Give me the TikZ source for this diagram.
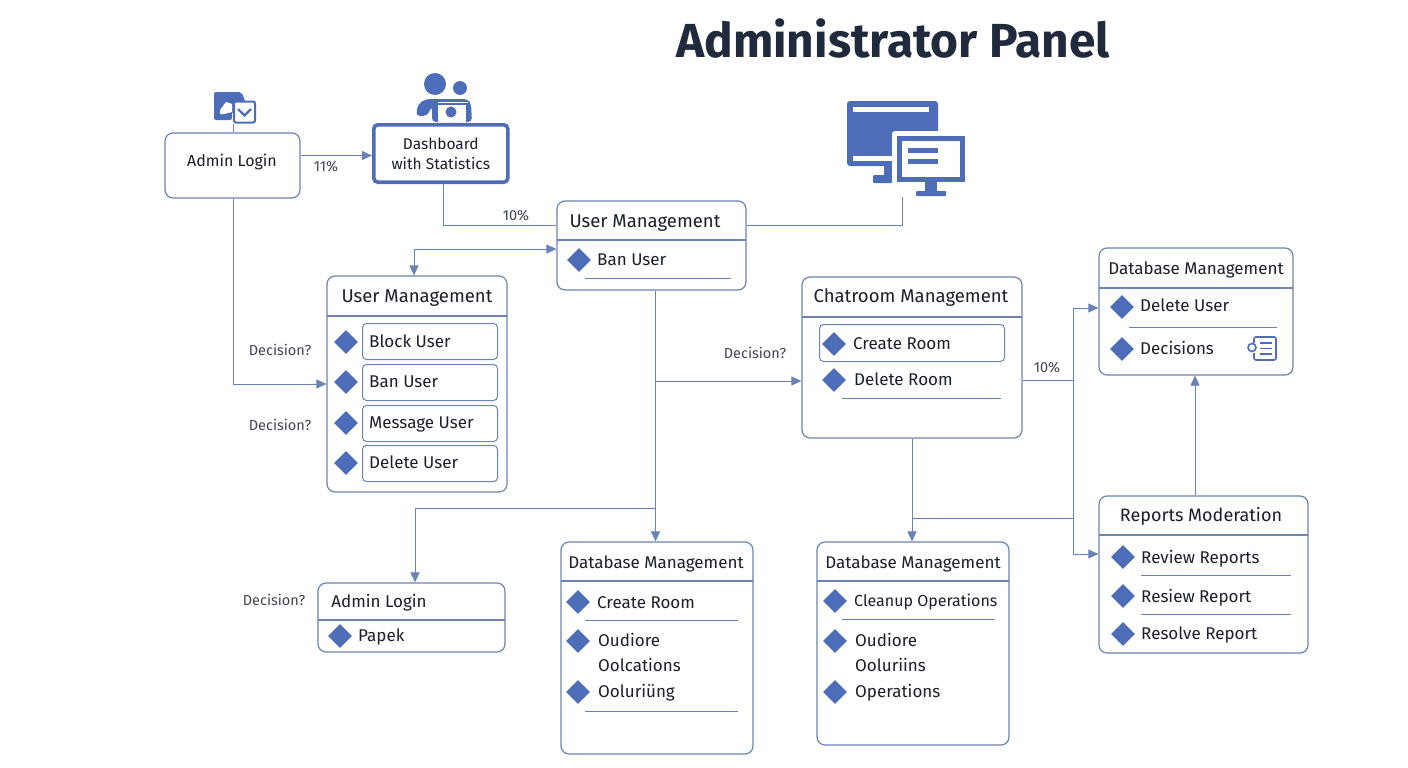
\documentclass[tikz,border=0pt]{standalone}
\usepackage{fontspec}
\setmainfont{Fira Sans}
\usetikzlibrary{arrows.meta,shapes.geometric,calc}
\definecolor{ln}{HTML}{6A82B6}
\definecolor{bx}{HTML}{6D83B3}
\definecolor{blu}{HTML}{4E6DB8}
\definecolor{ttl}{HTML}{1F2A3C}
\definecolor{txt}{HTML}{1A1F2B}
\definecolor{lbl}{HTML}{3F4654}
\tikzset{
 x=1pt,y=-1pt,
 panel/.style={draw=bx,line width=1.2pt,rounded corners=8pt,fill=white,inner sep=0pt},
 inner/.style={draw=bx,line width=1pt,rounded corners=4pt,fill=white,inner sep=0pt},
 dia/.style={diamond,fill=blu,inner sep=0pt,minimum width=24pt,minimum height=24pt},
 head/.style={font=\fontsize{18}{20}\selectfont,text=txt,inner sep=0pt,anchor=base},
 headb/.style={head,font=\fontsize{18.5}{20}\selectfont},
 headc/.style={head,font=\fontsize{17}{20}\selectfont},
 item/.style={font=\fontsize{17}{20}\selectfont,text=txt,inner sep=0pt,anchor=base west},
 lab/.style={font=\fontsize{14.5}{16}\selectfont,text=lbl,inner sep=0pt},
 wire/.style={draw=ln,line width=1pt},
 arr/.style={wire,-{Triangle[length=10pt,width=9pt,fill=ln]}},
 rule/.style={draw=ln,line width=0.9pt},
 hdr/.style={draw=bx,line width=1.1pt},
}
\newcommand{\panelbox}[6]{% name x1 y1 x2 y2 header-y
 \node[panel,minimum width=#4pt-#2pt,minimum height=#5pt-#3pt,anchor=north west] (#1) at (#2-0.6,#3-0.6) {};
 \draw[hdr] (#2,#6) -- (#4,#6);
}
\begin{document}
\begin{tikzpicture}
\useasboundingbox (0,0) rectangle (1408,768);
\fill[white] (0,0) rectangle (1408,768);
\node[font=\fontsize{47.8}{50}\selectfont\bfseries,text=ttl,inner sep=0pt,anchor=base] (title) at (893,58) {Administrator Panel};

\node[panel,minimum width=135pt,minimum height=65pt,anchor=north west] (login) at (164.4,132.4) {};
\node[font=\fontsize{16}{20}\selectfont,text=txt,inner sep=0pt] (logintxt) at (232,162) {Admin Login};
\node[draw=blu,line width=3.6pt,rounded corners=4pt,fill=white,minimum width=134pt,minimum height=57.4pt,anchor=north west,inner sep=0pt,align=center,font=\fontsize{15.5}{20}\selectfont,text=txt] (dash) at (372,123) {Dashboard\\with Statistics};

% icons
\coordinate (ic1) at (233,125);
\fill[blu,rounded corners=2pt] (214,92) -- (241,92) -- (245,100) -- (245,112) -- (232,112) -- (232,120) -- (214,120) -- cycle;
\fill[white] (220,110) -- (226,102) -- (232,104) -- (232,112) -- (224,114) -- (220,114) -- cycle;
\node[draw=blu,line width=2pt,rounded corners=2pt,fill=white,minimum width=21pt,minimum height=21pt,inner sep=0pt] (check) at (244.5,112) {};
\draw[blu,line width=2.4pt] (238,109) -- (244.5,115.5) -- (251,109);
\draw[wire] (check.south -| ic1) -- (login.north -| ic1);

% people icon
\fill[blu] (435,84) circle (11);
\fill[blu] (460,88) circle (7);
\fill[blu,rounded corners=4pt] (416,116) -- (418,104) -- (426,99) -- (468,99) -- (471,104) -- (472,122) -- (450,122) -- (432,122) -- (432,106) -- (427,116) -- cycle;
\fill[white] (438,102) rectangle (468,122);
\draw[blu,line width=2pt] (437,122) -- (437,104) -- (467,104) -- (467,122);
\fill[blu] (451,112) circle (5.5);

% monitor icon
\fill[blu,rounded corners=3pt] (847,101) rectangle (938,166);
\fill[white] (853,107) rectangle (929,111.5);
\fill[white] (853,156) rectangle (895,161);
\fill[blu] (884,166) rectangle (892,175);
\fill[blu,rounded corners=1pt] (873,175) rectangle (892,183);
\fill[white,rounded corners=3pt] (892,131) rectangle (970,190);
\fill[blu] (897,136) rectangle (965,182);
\fill[white] (902,141) rectangle (960,177);
\fill[blu] (908,148) rectangle (938,153);
\fill[blu] (908,159) rectangle (938,164);
\fill[blu] (925,182) rectangle (937,191);
\fill[blu,rounded corners=1pt] (916,191) rectangle (946,196);
\coordinate (mon) at (902,197);

% panels
\panelbox{umtop}{557}{201}{746}{290}{240}
\panelbox{um}{327}{276}{507}{492}{316}
\panelbox{chat}{802}{277}{1022}{438}{317}
\panelbox{dbtop}{1099}{248}{1293}{375}{288}
\panelbox{rep}{1099}{496}{1308}{653}{535}
\panelbox{al}{318}{583}{505}{652}{620}
\panelbox{dbl}{561}{542}{753}{754}{581}
\panelbox{dbr}{817}{542}{1009}{745}{581}

\coordinate (j0) at (300,155.5);
\coordinate (j1) at (414,249);
\coordinate (j2) at (655.5,381);
\coordinate (j3) at (655.5,508);
\coordinate (j4) at (415,508);
\coordinate (j5) at (1073,380);
\coordinate (j6) at (912,518);
\coordinate (j7) at (443,225);
\coordinate (j8) at (233,384);

\draw[arr] (login.east |- j0) -- (dash.west |- j0);
\draw[wire] (login.south -| j8) -- (j8);
\draw[arr] (j8) -- (um.west |- j8);
\draw[wire] (j7 |- dash.south) -- (j7) -- (umtop.west |- j7);
\draw[wire] (umtop.east |- j7) -- (mon |- j7) -- (mon);
\draw[arr] (j1) -- (umtop.west |- j1);
\draw[arr] (j1) -- (um.north -| j1);
\draw[arr] (j2 |- umtop.south) -- (j2 |- dbl.north);
\draw[arr] (j2) -- (chat.west |- j2);
\draw[wire] (j3) -- (j4);
\draw[arr] (j4) -- (al.north -| j4);
\draw[arr] (j6 |- chat.south) -- (j6 |- dbr.north);
\draw[wire] (j6) -- (j6 -| j5);
\draw[wire] (chat.east |- j5) -- (j5);
\draw[wire] (j5) -- (j5 |- 0,308);
\draw[arr] (j5 |- 0,308) -- (dbtop.west |- 0,308);
\draw[wire] (j5) -- (j5 |- 0,554);
\draw[arr] (j5 |- 0,554) -- (rep.west |- 0,554);
\draw[arr] (rep.north -| 1195,0) -- (dbtop.south -| 1195,0);

\node[lab] (p1) at (326,167) {11\%};
\node[lab] (p2) at (516,216) {10\%};
\node[lab] (p3) at (1047,368) {10\%};
\node[lab] (d1) at (280,350) {Decision?};
\node[lab] (d2) at (280,425) {Decision?};
\node[lab] (d3) at (755,353) {Decision?};
\node[lab] (d4) at (274,600) {Decision?};

\node[headb] (h1) at (645,227) {User Management};
\node[dia] (a1) at (579,260) {};
\node[item] (t1) at (597,265) {Ban User};
\draw[rule] (585,278) -- (731,278);

\node[headb] (h2) at (417,302) {User Management};
\foreach \n/\ya/\yb/\yd/\yt/\s in {b1/323/359/342/347/Block User,b2/364/400/382/387/Ban User,b3/405/441/423/428/Message User,b4/445/481/463/468/Delete User}{
 \node[inner,minimum width=135pt,minimum height=\yb pt-\ya pt,anchor=north west] (\n) at (362,\ya) {};
 \node[dia] (\n d) at (346,\yd) {};
 \node[item] (\n t) at (369,\yt) {\s};
}

\node[headb] (h3) at (911,302) {Chatroom Management};
\node[inner,minimum width=185pt,minimum height=37pt,anchor=north west] (c0) at (819,324) {};
\node[dia] (c1) at (834,344) {};
\node[item] (c1t) at (853,349) {Create Room};
\node[dia] (c2) at (834,380) {};
\node[item] (c2t) at (854,385) {Delete Room};
\draw[rule] (842,398) -- (1001,398);

\node[headc] (h4) at (1196,274) {Database Management};
\node[dia] (e1) at (1122,307) {};
\node[item] (e1t) at (1140,311) {Delete User};
\draw[rule] (1129,327) -- (1277,327);
\node[dia] (e2) at (1122,349) {};
\node[item] (e2t) at (1140,354) {Decisions};
\draw[blu,line width=1.6pt,rounded corners=2pt] (1254,343) -- (1254,337) -- (1276,337) -- (1276,360) -- (1254,360) -- (1254,353);
\node[draw=blu,line width=1.6pt,circle,fill=white,minimum size=8pt,inner sep=0pt] (e3) at (1252,347.5) {};
\draw[blu,line width=1.5pt] (1260,343) -- (1272,343) (1260,348.5) -- (1272,348.5) (1260,354) -- (1272,354);

\node[head] (h5) at (1201,521) {Reports Moderation};
\node[dia] (r1) at (1123,557) {};
\node[item] (r1t) at (1141,563) {Review Reports};
\draw[rule] (1141,575) -- (1291,575);
\node[dia] (r2) at (1123,596) {};
\node[item] (r2t) at (1141,602) {Resiew Report};
\draw[rule] (1141,614) -- (1291,614);
\node[dia] (r3) at (1123,634) {};
\node[item] (r3t) at (1141,639) {Resolve Report};

\node[headc] (h6) at (379,607) {Admin Login};
\node[dia] (l1) at (340,636) {};
\node[item] (l1t) at (358,641) {Papek};

\node[headc] (h7) at (656,568) {Database Management};
\node[dia] (m1) at (578,602) {};
\node[item] (m1t) at (597,608) {Create Room};
\draw[rule] (585,620) -- (738,620);
\node[dia] (m2) at (578,641) {};
\node[item] (m2t) at (598,646) {Oudiore};
\node[item] (m2u) at (598,671) {Oolcations};
\node[dia] (m3) at (578,692) {};
\node[item] (m3t) at (598,697) {Ooluriüng};
\draw[rule] (585,711) -- (738,711);

\node[headc] (h8) at (913,568) {Database Management};
\node[dia] (n1) at (835,601) {};
\node[item,font=\fontsize{16}{20}\selectfont] (n1t) at (854,606) {Cleanup Operations};
\draw[rule] (842,619) -- (995,619);
\node[dia] (n2) at (835,641) {};
\node[item] (n2t) at (855,646) {Oudiore};
\node[item] (n2u) at (855,671) {Ooluriins};
\node[dia] (n3) at (835,692) {};
\node[item] (n3t) at (855,697) {Operations};
\end{tikzpicture}
\end{document}
